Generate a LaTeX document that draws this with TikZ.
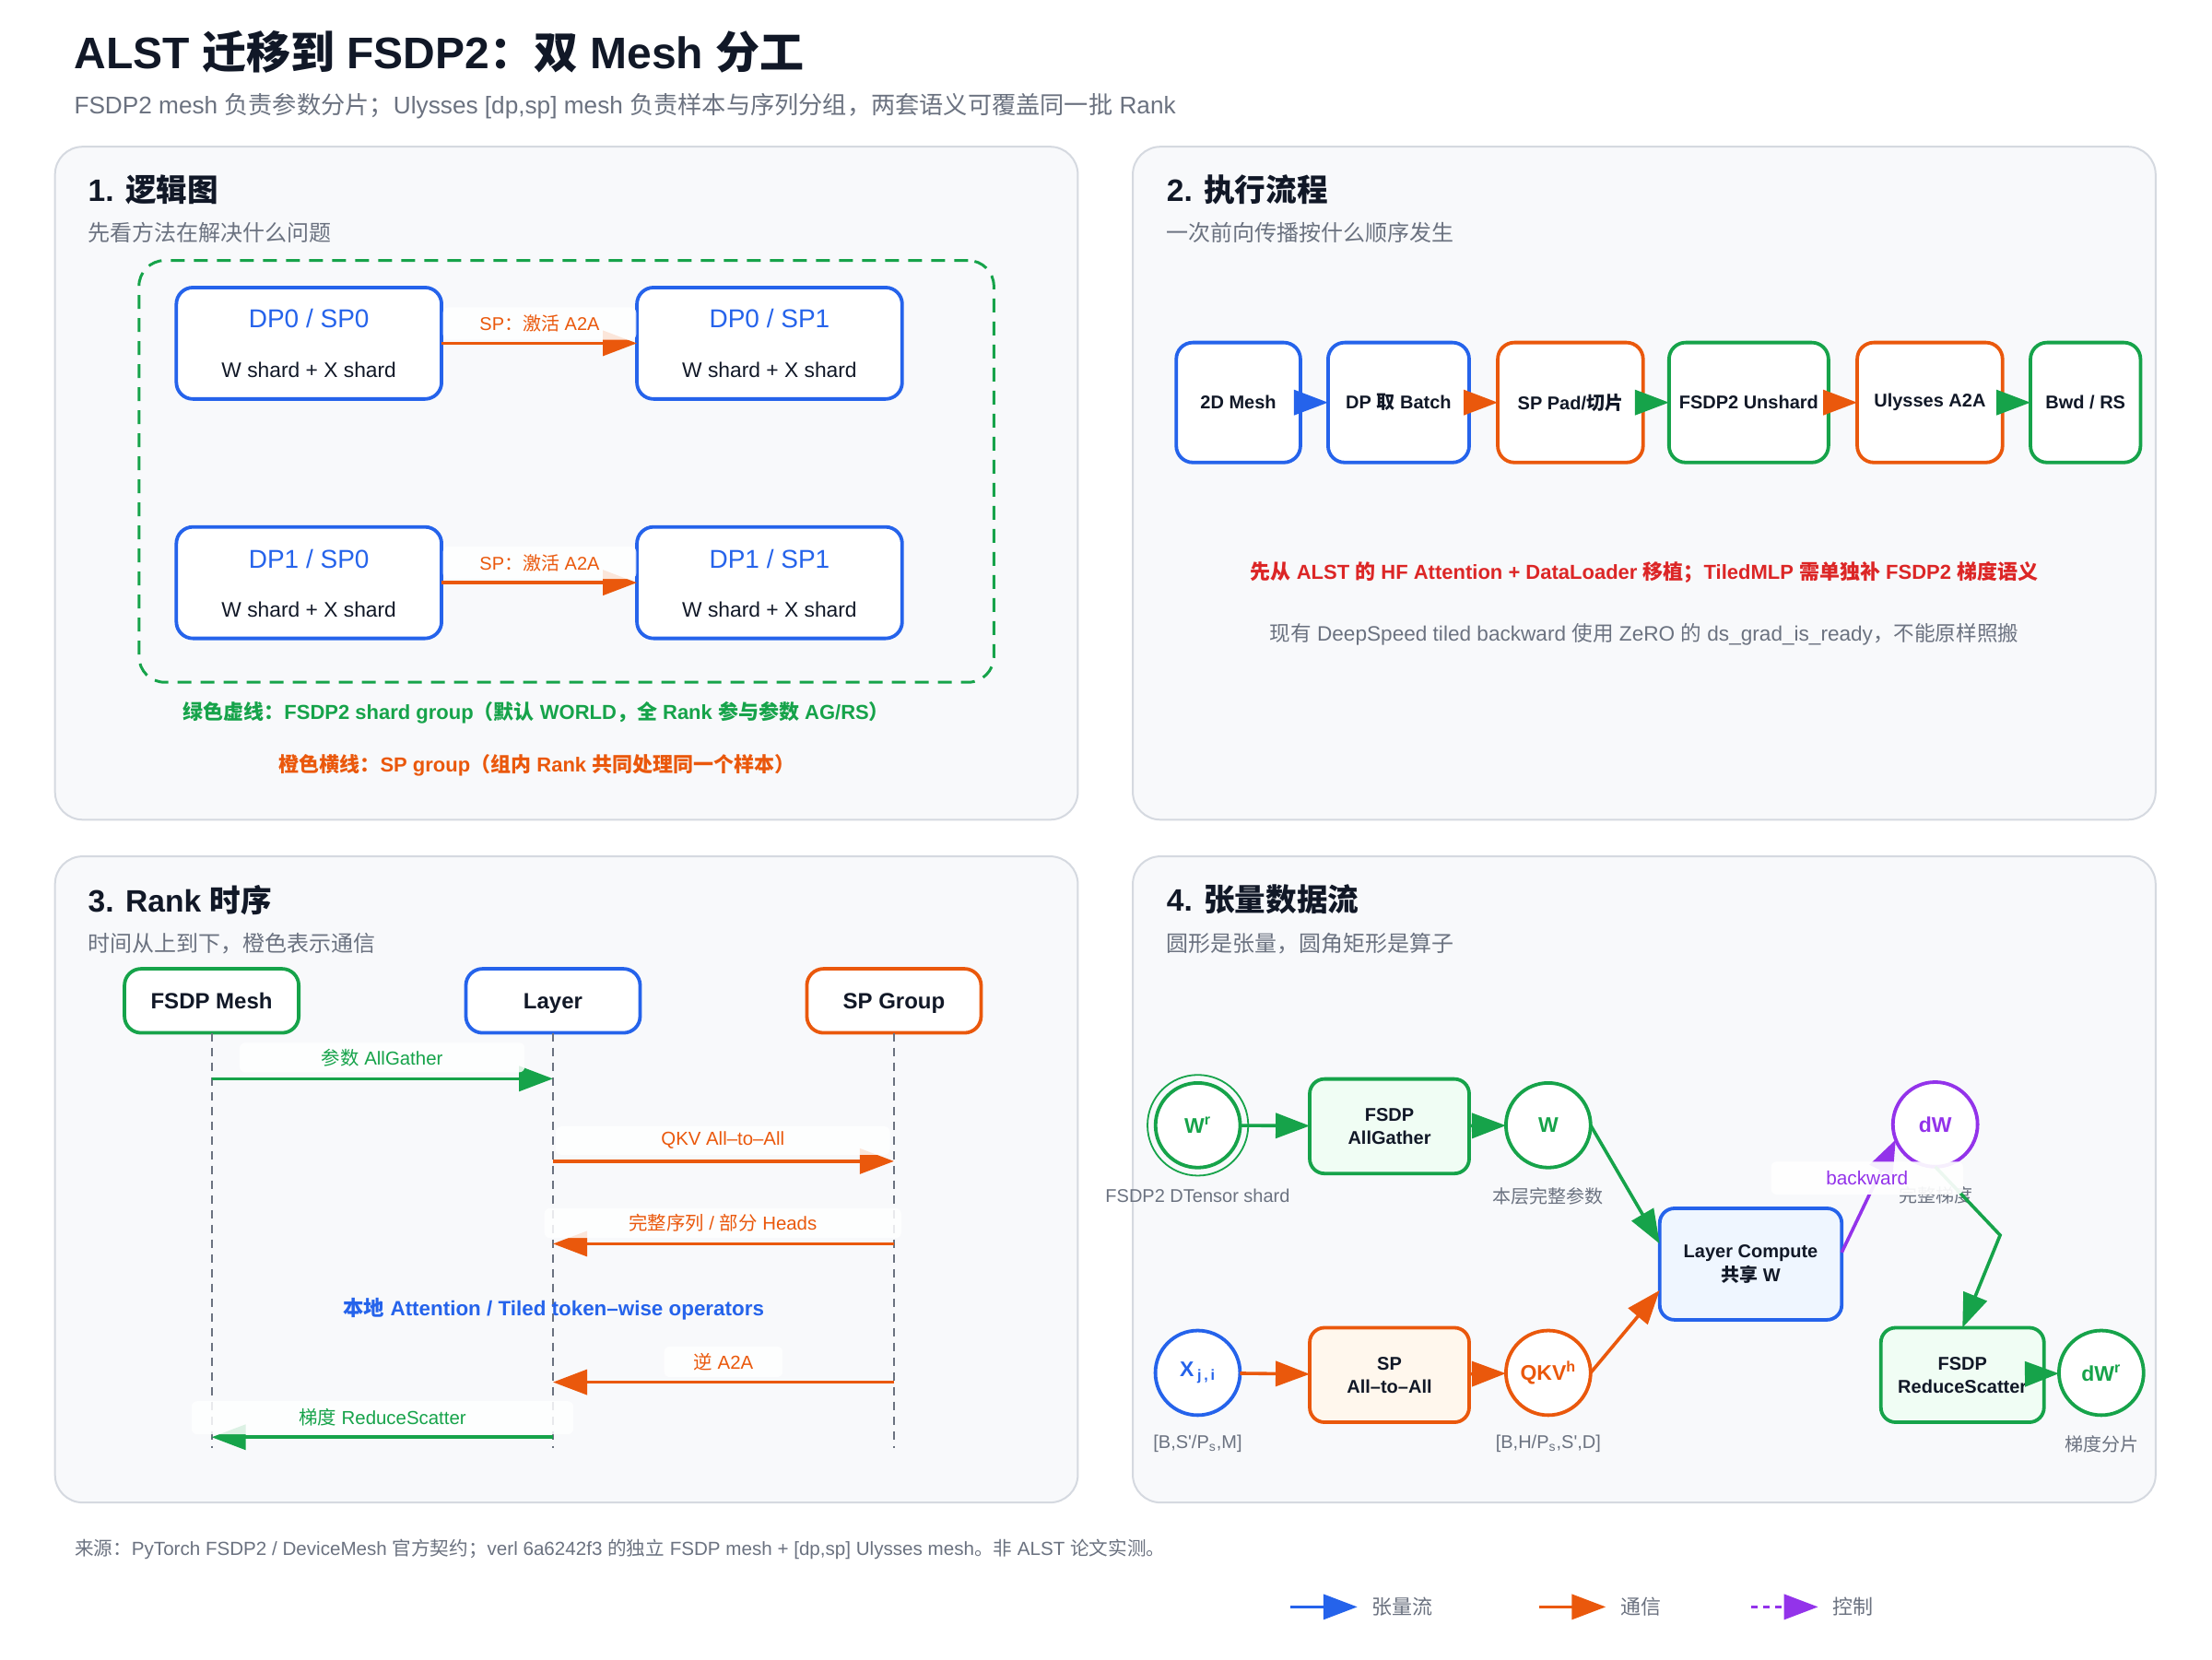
\documentclass[tikz,border=0pt]{standalone}
\usepackage{fontspec}
\setmainfont{Liberation Sans}
\newfontfamily\cjkfont{Noto Sans CJK SC}
\usetikzlibrary{arrows.meta}
\XeTeXinterchartokenstate=1
\chardef\cjkcls=7
\newcount\cjkc
\cjkc="4E00
\loop\XeTeXcharclass\cjkc=\cjkcls\advance\cjkc by 1\relax\ifnum\cjkc<"A000\repeat
\cjkc="3000
\loop\XeTeXcharclass\cjkc=\cjkcls\advance\cjkc by 1\relax\ifnum\cjkc<"3040\repeat
\cjkc="FF00
\loop\XeTeXcharclass\cjkc=\cjkcls\advance\cjkc by 1\relax\ifnum\cjkc<"FFF0\repeat
\cjkc="21
\loop\XeTeXcharclass\cjkc=0\advance\cjkc by 1\relax\ifnum\cjkc<"7F\repeat
\XeTeXcharclass"2013=0
\XeTeXinterchartoks 0 7 = {\cjkfont}
\XeTeXinterchartoks 4095 7 = {\cjkfont}
\XeTeXinterchartoks 7 0 = {\rmfamily}
\XeTeXinterchartoks 7 4095 = {\rmfamily}
\definecolor{cblue}{HTML}{2563EB}
\definecolor{corange}{HTML}{EA580C}
\definecolor{cgreen}{HTML}{16A34A}
\definecolor{cpurple}{HTML}{9333EA}
\definecolor{cred}{HTML}{DC2626}
\definecolor{cdark}{HTML}{111827}
\definecolor{cgray}{HTML}{6B7280}
\definecolor{cpanel}{HTML}{F8F9FB}
\definecolor{cpborder}{HTML}{D5D9E0}
\definecolor{lgreen}{HTML}{F0FDF4}
\definecolor{lorange}{HTML}{FFF7ED}
\definecolor{lblue}{HTML}{EFF6FF}
\newcommand\fs[2]{\fontsize{#1}{#2}\selectfont}
\begin{document}
\begin{tikzpicture}[x=0.7653pt, y=-0.7653pt,
  every node/.style={inner sep=0pt, outer sep=0pt, text=cdark},
  ahead/.style={-{Triangle[length=18.5pt,width=13.5pt]}},
  conn/.style={line width=1.8pt, ahead},
  panel/.style={draw=cpborder, line width=1pt, fill=cpanel, rounded corners=15pt},
  sz/.style 2 args={minimum width={#1*0.7653pt}, minimum height={#2*0.7653pt}},
  rbox/.style={rectangle, rounded corners=9pt, line width=1.9pt, fill=white},
  tnode/.style={circle, line width=1.9pt, fill=white, minimum size={60*0.7653pt}, font=\fs{11.5}{14}\bfseries},
  ttl/.style={anchor=west, font=\fs{16.8}{20}\bfseries, text=cdark},
  subt/.style={anchor=west, font=\fs{12}{15}, text=cgray},
  lbl/.style={fill=white, fill opacity=.85, text opacity=1, rounded corners=3pt},
  lifeline/.style={draw=cgray, line width=1pt, dash pattern=on 4.6pt off 3.4pt},
  flowbox/.style={rbox, sz={#1}{85}, font=\fs{10}{12}\bfseries},
  actor/.style={rbox, sz={123.5}{45.4}, font=\fs{12}{14}\bfseries, text height=8.6pt, text depth=0pt},
  tlabel/.style={font=\fs{10}{12}, text=cgray},
  opbox/.style={rbox, rounded corners=8pt, align=center, font=\fs{10}{12.6}\bfseries},
]
\path[use as bounding box, fill=white] (0,0) rectangle (1568,1176);

% ---------- title ----------
\node[anchor=west, font=\fs{24}{28}\bfseries] (title) at (52.6,37) {ALST 迁移到 FSDP2：双 Mesh 分工};
\node[anchor=west, font=\fs{13.1}{16}, text=cgray] (subtitle) at (52.6,75) {FSDP2 mesh 负责参数分片；Ulysses [dp,sp] mesh 负责样本与序列分组，两套语义可覆盖同一批 Rank};

% ---------- panels ----------
\node[panel, sz={725}{477}] (p1) at (401.5,342.5) {};
\node[panel, sz={725}{477}] (p2) at (1165.5,342.5) {};
\node[panel, sz={725}{458}] (p3) at (401.5,836) {};
\node[panel, sz={725}{458}] (p4) at (1165.5,836) {};

% ---------- panel 1 ----------
\node[ttl] (h1) at (62.5,134.5) {1. 逻辑图};
\node[subt] (s1) at (62.5,165) {先看方法在解决什么问题};
\node[draw=cgreen, line width=1.5pt, dash pattern=on 7.5pt off 5pt, rounded corners=14pt, sz={606}{299}] (grp) at (401.5,334.1) {};
\node[rbox, draw=cblue, sz={188}{79}] (b00) at (219,243.3) {};
\node[rbox, draw=cblue, sz={188}{79}] (b01) at (545.5,243.3) {};
\node[rbox, draw=cblue, sz={188}{79}] (b10) at (219,413) {};
\node[rbox, draw=cblue, sz={188}{79}] (b11) at (545.5,413) {};
\node[text=cblue, font=\fs{14}{17}] (b00a) at (219,226) {DP0 / SP0};
\node[font=\fs{11.4}{14}] (b00b) at (219,262.4) {W shard + X shard};
\node[text=cblue, font=\fs{14}{17}] (b01a) at (545.5,226) {DP0 / SP1};
\node[font=\fs{11.4}{14}] (b01b) at (545.5,262.4) {W shard + X shard};
\node[text=cblue, font=\fs{14}{17}] (b10a) at (219,396) {DP1 / SP0};
\node[font=\fs{11.4}{14}] (b10b) at (219,432) {W shard + X shard};
\node[text=cblue, font=\fs{14}{17}] (b11a) at (545.5,396) {DP1 / SP1};
\node[font=\fs{11.4}{14}] (b11b) at (545.5,432) {W shard + X shard};
\draw[conn, corange] (b00) -- (b01);
\draw[conn, corange] (b10) -- (b11);
\node[lbl, sz={137}{23}, text=corange, font=\fs{10}{12}] (l00) at (382.5,229.3) {SP：激活 A2A};
\node[lbl, sz={137}{23}, text=corange, font=\fs{10}{12}] (l10) at (382.5,398.8) {SP：激活 A2A};
\node[font=\fs{11}{13}\bfseries, text=cgreen] (gnote) at (380,505) {绿色虚线：FSDP2 shard group（默认 WORLD，全 Rank 参与参数 AG/RS）};
\node[font=\fs{11}{13}\bfseries, text=corange] (onote) at (380.5,542.5) {橙色横线：SP group（组内 Rank 共同处理同一个样本）};

% ---------- panel 2 ----------
\node[ttl] (h2) at (827,134.5) {2. 执行流程};
\node[subt] (s2) at (827,165) {一次前向传播按什么顺序发生};
\node[flowbox=88, draw=cblue] (f1) at (877.8,285.3) {2D Mesh};
\node[flowbox=100, draw=cblue] (f2) at (991.4,285.3) {DP 取 Batch};
\node[flowbox=103, draw=corange] (f3) at (1113.2,285.3) {SP Pad/切片};
\node[flowbox=113, draw=cgreen] (f4) at (1239.6,285.3) {FSDP2 Unshard};
\node[flowbox=103, draw=corange] (f5) at (1368,285.3) {Ulysses A2A};
\node[flowbox=78, draw=cgreen] (f6) at (1478.3,285.3) {Bwd / RS};
\draw[conn, cblue] (f1) -- (f2);
\draw[conn, corange] (f2) -- (f3);
\draw[conn, cgreen] (f3) -- (f4);
\draw[conn, corange] (f4) -- (f5);
\draw[conn, cgreen] (f5) -- (f6);
\node[font=\fs{11}{13}\bfseries, text=cred] (rnote) at (1165.5,406) {先从 ALST 的 HF Attention + DataLoader 移植；TiledMLP 需单独补 FSDP2 梯度语义};
\node[font=\fs{11.3}{13}, text=cgray] (gnote2) at (1165.5,449.5) {现有 DeepSpeed tiled backward 使用 ZeRO 的 ds\_grad\_is\_ready，不能原样照搬};

% ---------- panel 3 ----------
\node[ttl] (h3) at (62.5,637.8) {3. Rank 时序};
\node[subt] (s3) at (62.5,668.9) {时间从上到下，橙色表示通信};
\node[actor, draw=cgreen] (a1) at (150,709.4) {FSDP Mesh};
\node[actor, draw=cblue] (a2) at (392,709.4) {Layer};
\node[actor, draw=corange] (a3) at (633.7,709.4) {SP Group};
\coordinate (e1) at (150,1026.5);
\coordinate (e2) at (392,1026.5);
\coordinate (e3) at (633.7,1026.5);
\draw[lifeline] (a1.south) -- (e1);
\draw[lifeline] (a2.south) -- (e2);
\draw[lifeline] (a3.south) -- (e3);
\coordinate (m1a) at (150,764.6);   \coordinate (m1b) at (392,764.6);
\coordinate (m2a) at (392,823.1);   \coordinate (m2b) at (633.7,823.1);
\coordinate (m3a) at (633.7,881.6); \coordinate (m3b) at (392,881.6);
\coordinate (m5a) at (633.7,979.7); \coordinate (m5b) at (392,979.7);
\coordinate (m6a) at (392,1018.7);  \coordinate (m6b) at (150,1018.7);
\draw[conn, cgreen] (m1a) -- (m1b);
\draw[conn, corange] (m2a) -- (m2b);
\draw[conn, corange] (m3a) -- (m3b);
\draw[conn, corange] (m5a) -- (m5b);
\draw[conn, cgreen] (m6a) -- (m6b);
\node[lbl, sz={202}{21}, text=cgreen, font=\fs{10.2}{12}] (ml1) at (270.9,749.6) {参数 AllGather};
\node[lbl, sz={237}{20}, text=corange, font=\fs{10.2}{12}] (ml2) at (512.4,808.5) {QKV All–to–All};
\node[lbl, sz={253}{21}, text=corange, font=\fs{10.2}{12}] (ml3) at (512.35,867) {完整序列 / 部分 Heads};
\node[font=\fs{11.2}{13}\bfseries, text=cblue] (ml4) at (392.5,928.1) {本地 Attention / Tiled token–wise operators};
\node[lbl, sz={84}{21.6}, text=corange, font=\fs{10.2}{12}] (ml5) at (512.8,965.3) {逆 A2A};
\node[lbl, sz={270.6}{23.4}, text=cgreen, font=\fs{10.2}{12}] (ml6) at (271.1,1004.9) {梯度 ReduceScatter};

% ---------- panel 4 ----------
\node[ttl] (h4) at (827,637.7) {4. 张量数据流};
\node[subt] (s4) at (827,668.9) {圆形是张量，圆角矩形是算子};
\node[tnode, draw=cgreen, text=cgreen] (Wr) at (849.1,797.6) {W\textsuperscript{r}};
\draw[cgreen, line width=0.9pt] (Wr.center) circle[radius=35.7];
\node[opbox, draw=cgreen, fill=lgreen, sz={113}{67}] (ag) at (984.9,798.3) {FSDP\\AllGather};
\node[tnode, draw=cgreen, text=cgreen] (W) at (1097.5,797.6) {W};
\node[opbox, draw=cblue, fill=lblue, sz={129}{79}] (lc) at (1241,896) {Layer Compute\\共享 W};
\node[tnode, draw=cpurple, text=cpurple] (dW) at (1371.8,797) {dW};
\node[tnode, draw=cblue, text=cblue] (X) at (849,973.1) {X\,\textsubscript{j\,,\,i}};
\node[opbox, draw=corange, fill=lorange, sz={113}{67}] (sp) at (984.9,974.6) {SP\\All–to–All};
\node[tnode, draw=corange, text=corange] (QKV) at (1097.5,973.1) {QKV\textsuperscript{h}};
\node[opbox, draw=cgreen, fill=lgreen, sz={115.6}{67}] (rs) at (1391.1,974.6) {FSDP\\ReduceScatter};
\node[tnode, draw=cgreen, text=cgreen] (dWr) at (1489.5,973.1) {dW\textsuperscript{r}};
\node[tlabel] (Wrl) at (849,847.7) {FSDP2 DTensor shard};
\node[tlabel] (Wl) at (1097.5,847.7) {本层完整参数};
\node[tlabel] (dWl) at (1372,847.5) {完整梯度};
\node[tlabel] (Xl) at (849,1023.5) {[B,S\textquotesingle/P\textsubscript{s},M]};
\node[tlabel] (QKVl) at (1097.5,1023.5) {[B,H/P\textsubscript{s},S\textquotesingle,D]};
\node[tlabel] (dWrl) at (1490,1023.5) {梯度分片};
\draw[conn, cgreen] (Wr) -- (ag);
\draw[conn, cgreen] (ag) -- (W);
\draw[conn, cgreen] (W.east) -- ([yshift=11pt]lc.west);
\draw[conn, corange] (X) -- (sp);
\draw[conn, corange] (sp) -- (QKV);
\draw[conn, corange] (QKV.east) -- ([yshift=-14.2pt]lc.west);
\draw[conn, cpurple] ([yshift=6.3pt]lc.east) -- (dW.201);
\coordinate (bend) at (1417.8,875.5);
\draw[conn, cgreen] (dW.south) -- (bend) -- (rs.north);
\draw[conn, cgreen] (rs) -- (dWr);
\node[lbl, sz={136}{23.3}, text=cpurple, font=\fs{10.4}{12}, fill opacity=.92] (bwl) at (1323.5,835) {backward};

% ---------- footer ----------
\node[anchor=west, font=\fs{10.3}{12}, text=cgray] (foot) at (53,1098) {来源：PyTorch FSDP2 / DeviceMesh 官方契约；verl 6a6242f3 的独立 FSDP mesh + [dp,sp] Ulysses mesh。非 ALST 论文实测。};
\coordinate (lg1a) at (914.7,1139);  \coordinate (lg1b) at (962.2,1139);
\coordinate (lg2a) at (1091.1,1139); \coordinate (lg2b) at (1138.3,1139);
\coordinate (lg3a) at (1241.3,1139); \coordinate (lg3b) at (1288.8,1139);
\draw[conn, cblue] (lg1a) -- (lg1b);
\draw[conn, corange] (lg2a) -- (lg2b);
\draw[conn, cpurple, dash pattern=on 3.5pt off 3pt] (lg3a) -- (lg3b);
\node[anchor=west, font=\fs{11}{13}, text=cgray] (lg1t) at (972.4,1139) {张量流};
\node[anchor=west, font=\fs{11}{13}, text=cgray] (lg2t) at (1148.8,1139) {通信};
\node[anchor=west, font=\fs{11}{13}, text=cgray] (lg3t) at (1299,1139) {控制};
\end{tikzpicture}
\end{document}
